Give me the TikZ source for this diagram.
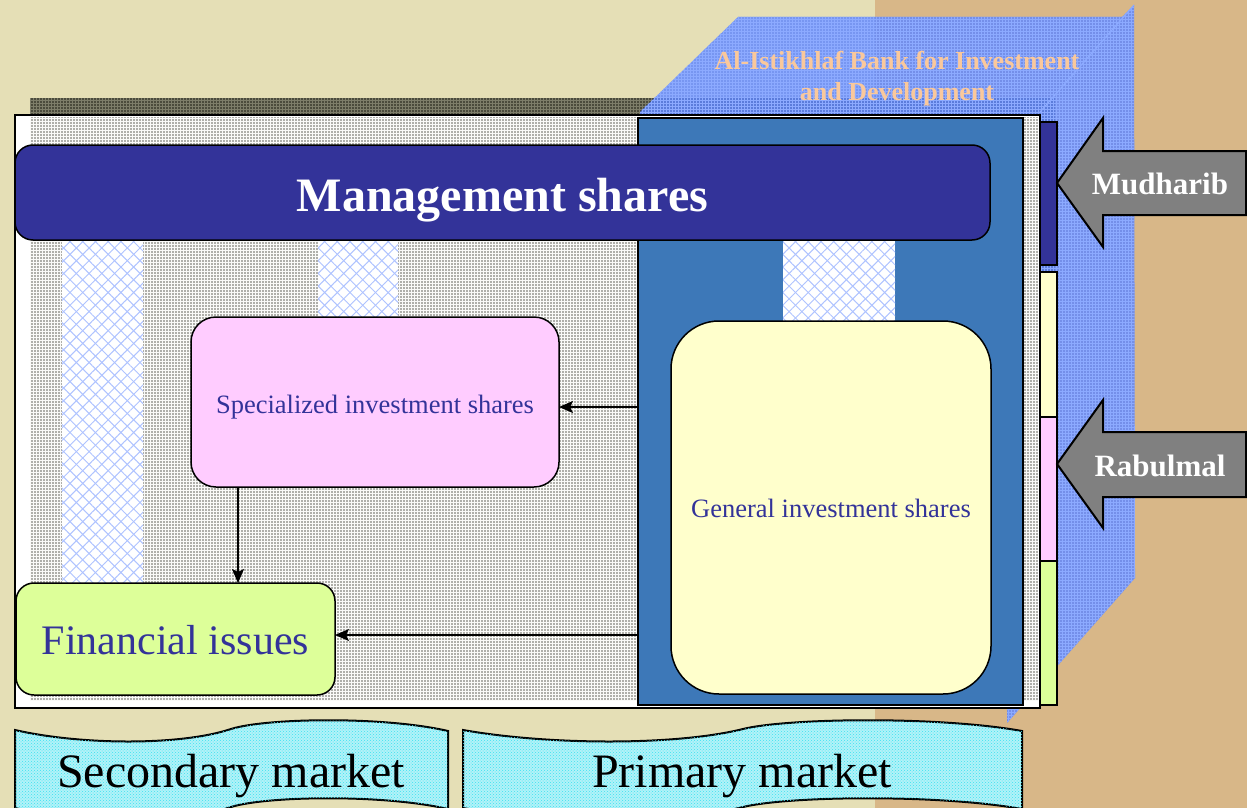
\documentclass[tikz,border=0pt]{standalone}
\usepackage{fontspec}
\setmainfont{Liberation Serif}
\usetikzlibrary{patterns,patterns.meta,arrows.meta,calc}

\definecolor{bgcream}{RGB}{229,223,182}
\definecolor{bgtan}{RGB}{216,183,136}
\definecolor{navy}{RGB}{51,51,153}
\definecolor{panelblue}{RGB}{61,120,184}
\definecolor{pinkbox}{RGB}{255,204,255}
\definecolor{yelbox}{RGB}{255,255,204}
\definecolor{grnbox}{RGB}{221,255,153}
\definecolor{bankblue}{RGB}{95,135,255}
\definecolor{banklite}{RGB}{140,170,255}
\definecolor{peach}{RGB}{250,200,155}
\definecolor{arrowgray}{RGB}{128,128,128}
\definecolor{hatchblue}{RGB}{175,195,255}
\definecolor{texgray}{RGB}{175,175,170}
\definecolor{texline}{RGB}{250,250,248}
\definecolor{darkshadow}{RGB}{75,75,60}
\definecolor{darkline}{RGB}{125,125,105}
\definecolor{cyanfill}{RGB}{178,242,248}
\definecolor{cyandot}{RGB}{60,225,240}

\tikzset{
  shapebox/.style={draw=black, line width=1.5pt, inner sep=0pt, outer sep=0pt},
  navytext/.style={text=navy, font=\fontsize{26.5pt}{30pt}\selectfont},
  conn/.style={draw=black, line width=1.3pt, -{Stealth[length=14pt,width=12pt,inset=3pt]}},
  blockarrow/.style={fill=arrowgray, draw=black, line width=2pt, line join=miter},
  arrowlabel/.style={text=white, font=\bfseries\fontsize{31pt}{34pt}\selectfont},
  stripbox/.style={draw=black, line width=1.5pt},
  banner/.style={draw=black, line width=2pt, fill=cyanfill, postaction={pattern=crosshatch dots, pattern color=cyandot}},
  bannertext/.style={text=black, font=\fontsize{48pt}{52pt}\selectfont, anchor=base},
  lattice/.style={fill=white, postaction={pattern={Lines[angle=45,distance=9pt,line width=1pt]}, pattern color=hatchblue}, postaction={pattern={Lines[angle=-45,distance=9pt,line width=1pt]}, pattern color=hatchblue}}
}

\begin{document}
\begin{tikzpicture}[x=1pt,y=-1pt]
\useasboundingbox (0,0) rectangle (1247,808);

% background
\fill[bgcream] (0,0) rectangle (875,808);
\fill[bgtan] (875,0) rectangle (1247,808);

% shadow of the main box
\path[fill=darkshadow, postaction={pattern=grid, pattern color=darkline}] (30,98) rectangle (1055,700);

% transparent 3D bank box
\path[fill=bankblue, fill opacity=0.82] (640,112) -- (738,17) -- (1122,17) -- (1134,5) -- (1135,578) -- (1007,723) -- (1007,708) -- (640,708) -- cycle;
\path[pattern=grid, pattern color=banklite] (640,112) -- (738,17) -- (1122,17) -- (1134,5) -- (1135,578) -- (1007,723) -- (1007,708) -- (640,708) -- cycle;
\draw[banklite, line width=1.2pt] (1134,5) -- (1040,112);

% main box
\path[fill=white, draw=black, line width=1.5pt] (15,115) rectangle (1040,708);
\path[fill=texgray, postaction={pattern=grid, pattern color=texline}] (30,117) rectangle (1038,700);

% light lattice columns
\path[lattice] (62,240) rectangle (143,583);
\path[lattice] (318,240) rectangle (398,318);

% general panel
\node[shapebox, fill=panelblue, minimum width=385pt, minimum height=587pt] (panel) at (830.5,411.5) {};
\path[lattice] (783,240) rectangle (895,321);

% side strips
\path[stripbox, fill=navy] (1040,122) rectangle (1057,265);
\path[stripbox, fill=yelbox] (1040,272) rectangle (1057,417);
\path[stripbox, fill=pinkbox] (1040,417) rectangle (1057,561);
\path[stripbox, fill=grnbox] (1040,561) rectangle (1057,705);

% management shares
\node[shapebox, fill=navy, rounded corners=18pt, minimum width=975pt, minimum height=95pt,
      text height=45pt, text depth=8pt,
      text=white, font=\bfseries\fontsize{48pt}{52pt}\selectfont] (mgmt) at (502.5,192.5) {Management shares};

% boxes
\node[shapebox, navytext, fill=pinkbox, rounded corners=25pt, minimum width=368pt, minimum height=170pt,
      text height=28pt, text depth=6pt] (spec) at (375,402) {Specialized investment shares};
\node[shapebox, navytext, fill=yelbox, rounded corners=48pt, minimum width=320pt, minimum height=373pt,
      text height=25pt, text depth=6pt] (gen) at (831,507.5) {General investment shares};
\node[shapebox, fill=grnbox, rounded corners=18pt, minimum width=319pt, minimum height=112pt,
      text height=38pt, text depth=8pt,
      text=navy, font=\fontsize{42pt}{46pt}\selectfont] (fin) at (175.5,639) {Financial issues};

% connectors
\coordinate (a1) at ([yshift=-5pt]spec.east);
\coordinate (a2) at ([yshift=4pt]fin.east);
\coordinate (a3) at ([xshift=-137pt]spec.south);
\draw[conn] (panel.west |- a1) -- (a1);
\draw[conn] (panel.west |- a2) -- (a2);
\draw[conn] (a3) -- (a3 |- fin.north);

% block arrows
\path[blockarrow] (1057,183) -- (1103,118) -- (1103,151) -- (1246,151) -- (1246,215) -- (1103,215) -- (1103,247) -- cycle;
\node[arrowlabel] (mud) at (1160,184) {Mudharib};
\path[blockarrow] (1057,464) -- (1103,400) -- (1103,432) -- (1246,432) -- (1246,497) -- (1103,497) -- (1103,528) -- cycle;
\node[arrowlabel] (rab) at (1160,466) {Rabulmal};

% bank title
\node[text=peach, font=\bfseries\fontsize{26pt}{31pt}\selectfont, align=center] (bank) at (897,79) {Al-Istikhlaf Bank for Investment\\and Development};

% bottom wave banners
\path[banner] (15,730) .. controls (80,745) and (180,746) .. (231,729)
  .. controls (266,718) and (383,716) .. (448,731) -- (448,809)
  .. controls (383,794) and (266,796) .. (231,807)
  .. controls (180,824) and (80,823) .. (15,808) -- cycle;
\node[bannertext] (sec) at (231,787) {Secondary market};

\path[banner] (463,730) .. controls (547,745) and (675,746) .. (743,729)
  .. controls (788,718) and (938,716) .. (1022,731) -- (1022,809)
  .. controls (938,794) and (788,796) .. (743,807)
  .. controls (675,824) and (547,823) .. (463,808) -- cycle;
\node[bannertext] (prim) at (742,787) {Primary market};
\end{tikzpicture}
\end{document}
